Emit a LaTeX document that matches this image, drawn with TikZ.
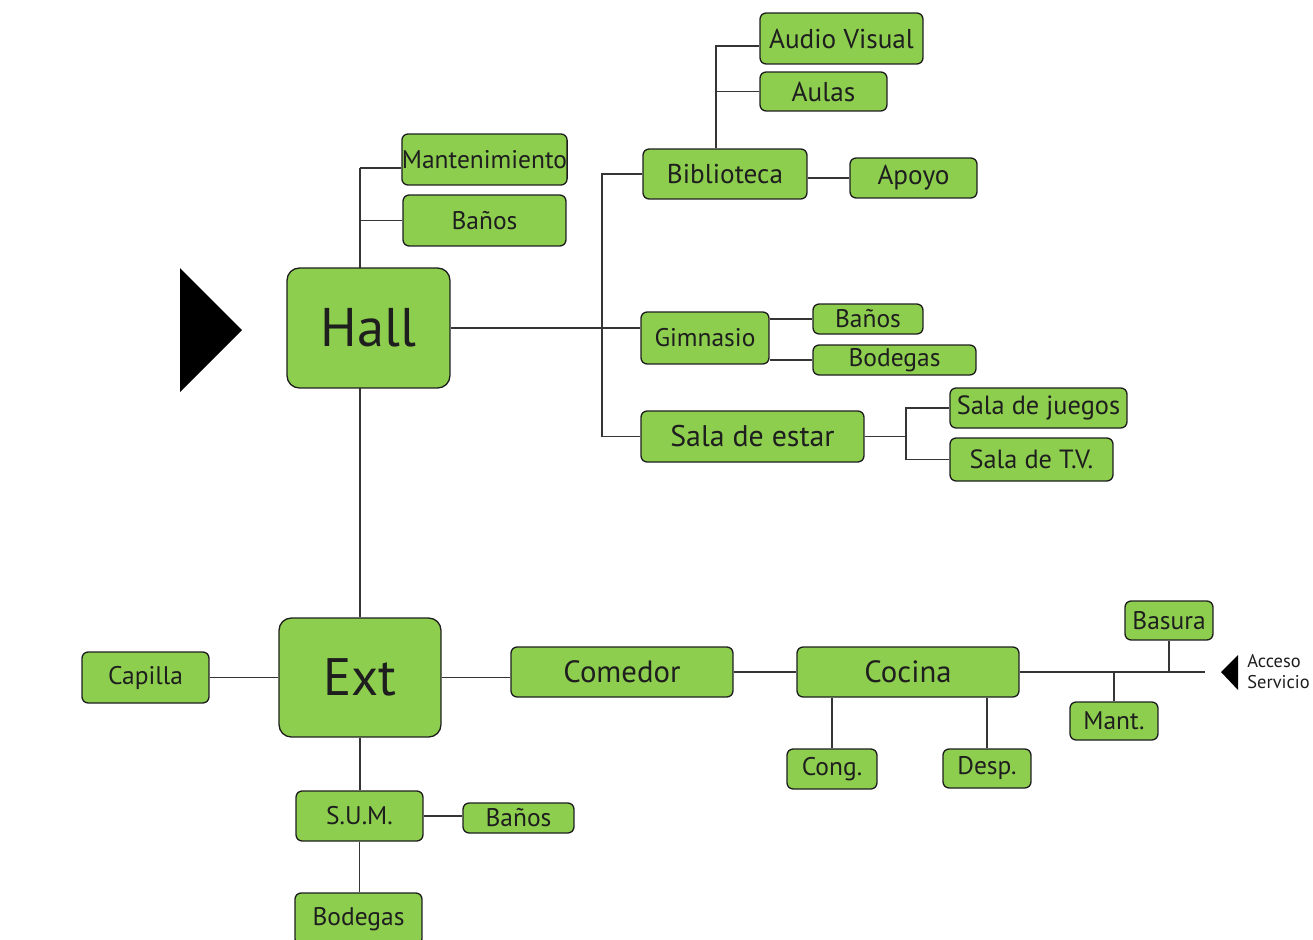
\documentclass[tikz,border=0pt]{standalone}
\usepackage{fontspec}
\setmainfont{PT Sans}
\usepackage{xcolor}
\usepackage{tikz}
\usetikzlibrary{backgrounds}

\definecolor{boxgreen}{RGB}{141,206,79}
\definecolor{ink}{RGB}{30,30,30}

\begin{document}
\begin{tikzpicture}[x=0.02cm,y=-0.02cm,
  box/.style={shape=rectangle,draw=ink,fill=boxgreen,line width=0.75pt,rounded corners=3.5pt,inner sep=0pt,text=ink,font=\fontsize{14.5}{16}\selectfont},
  bigbox/.style={box,rounded corners=7pt,font=\fontsize{31}{35}\selectfont},
  link/.style={-,line width=1pt,draw=ink!90}]

\useasboundingbox (0,0) rectangle (1313,940);

%% nodes

\node[bigbox, minimum width=3.26cm, minimum height=2.4cm] (hall) at (368.5,328) {Hall};
\node[box, minimum width=3.26cm, minimum height=1.02cm] (mant) at (484.5,159.5) {Mantenimiento};
\node[box, minimum width=3.26cm, minimum height=1.02cm] (banosH) at (484.5,220.5) {Baños};

\node[box, minimum width=3.28cm, minimum height=1.0cm, font=\fontsize{15.5}{17}\selectfont] (bib) at (725,174) {Biblioteca};
\node[box, minimum width=3.26cm, minimum height=1.02cm, font=\fontsize{15.5}{17}\selectfont] (audio) at (841.5,38.5) {Audio Visual};
\node[box, minimum width=2.54cm, minimum height=0.78cm, font=\fontsize{15.5}{17}\selectfont] (aulas) at (823.5,91.5) {Aulas};
\node[box, minimum width=2.54cm, minimum height=0.8cm, font=\fontsize{15.5}{17}\selectfont] (apoyo) at (913.5,178) {Apoyo};

\node[box, minimum width=2.56cm, minimum height=1.04cm] (gim) at (705,338) {Gimnasio};
\node[box, minimum width=2.2cm, minimum height=0.6cm] (banosG) at (868,319) {Baños};
\node[box, minimum width=3.26cm, minimum height=0.6cm] (bodG) at (894.5,360) {Bodegas};

\node[box, minimum width=4.46cm, minimum height=1.02cm, font=\fontsize{17}{19}\selectfont] (sala) at (752.5,436.5) {Sala de estar};
\node[box, minimum width=3.54cm, minimum height=0.8cm, font=\fontsize{15}{17}\selectfont] (juegos) at (1038.5,408) {Sala de juegos};
\node[box, minimum width=3.26cm, minimum height=0.86cm, font=\fontsize{15}{17}\selectfont] (tv) at (1031.5,459.5) {Sala de T.V.};

\node[bigbox, minimum width=3.24cm, minimum height=2.38cm, font=\fontsize{30}{34}\selectfont] (ext) at (360,677.5) {Ext};
\node[box, minimum width=2.54cm, minimum height=1.02cm] (capilla) at (145.5,677.5) {Capilla};
\node[box, minimum width=4.44cm, minimum height=1.0cm, font=\fontsize{17.5}{19}\selectfont] (comedor) at (622,672) {Comedor};
\node[box, minimum width=4.44cm, minimum height=1.0cm, font=\fontsize{17.5}{19}\selectfont] (cocina) at (908,672) {Cocina};

\node[box, minimum width=1.76cm, minimum height=0.78cm] (basura) at (1169,620.5) {Basura};
\node[box, minimum width=1.76cm, minimum height=0.76cm] (mantC) at (1114,721) {Mant.};
\node[box, minimum width=1.8cm, minimum height=0.8cm] (cong) at (832,769) {Cong.};
\node[box, minimum width=1.76cm, minimum height=0.78cm] (desp) at (987,768.5) {Desp.};

\node[box, minimum width=2.54cm, minimum height=1.0cm] (sum) at (359.5,816) {S.U.M.};
\node[box, minimum width=2.22cm, minimum height=0.6cm] (banosS) at (518.5,818) {Baños};
\node[box, minimum width=2.54cm, minimum height=1.04cm] (bodS) at (358.5,919) {Bodegas};

\node[anchor=west, align=left, text=ink, inner sep=0pt, font=\fontsize{10.5}{12}\selectfont] (acceso) at (1247,672) {Acceso\\Servicio};

%% entrances
\fill[black] (180,268) -- (242,330) -- (180,392) -- cycle;
\fill[black] (1238,655) -- (1221,672) -- (1238,690) -- cycle;

%% lines
\coordinate (hT) at (360,168);
\coordinate (sp) at (602,0);
\coordinate (bt) at (716,46);
\coordinate (sj) at (906,0);
\coordinate (ae) at (1205,672);

\begin{pgfonlayer}{background}
\draw[link] (hT) -- (ext.north);
\draw[link] (hT) -- (hT -| mant.west);
\draw[link] (hT |- banosH.west) -- (banosH.west);

\draw[link] (hall.east) -- (hall.east -| gim.west);
\draw[link] (bib.west) -- (bib.west -| sp) -- (sala.west -| sp) -- (sala.west);
\draw[link] (bib.north -| bt) -- (bt) -- (bt -| audio.west);
\draw[link] (aulas.west -| bt) -- (aulas.west);
\draw[link] (apoyo.west -| bib.east) -- (apoyo.west);

\draw[link] (banosG.west -| gim.east) -- (banosG.west);
\draw[link] (bodG.west -| gim.east) -- (bodG.west);

\draw[link] (sala.east) -- (sala.east -| sj);
\draw[link] (juegos.west) -- (juegos.west -| sj) -- (tv.west -| sj) -- (tv.west);

\draw[link] (capilla.east) -- (ext.west);
\draw[link] (ext.east) -- (ext.east -| comedor.west);
\draw[link] (comedor.east) -- (cocina.west);
\draw[link] (cocina.east) -- (ae);
\draw[link] (basura.south) -- (basura.south |- ae);
\draw[link] (mantC.north) -- (mantC.north |- ae);
\draw[link] (cong.north) -- (cong.north |- cocina.south);
\draw[link] (desp.north) -- (desp.north |- cocina.south);

\draw[link] (ext.south) -- (sum.north -| ext.south);
\draw[link] (sum.east) -- (sum.east -| banosS.west);
\draw[link] (sum.south) -- (bodS.north -| sum.south);
\end{pgfonlayer}

\end{tikzpicture}
\end{document}
